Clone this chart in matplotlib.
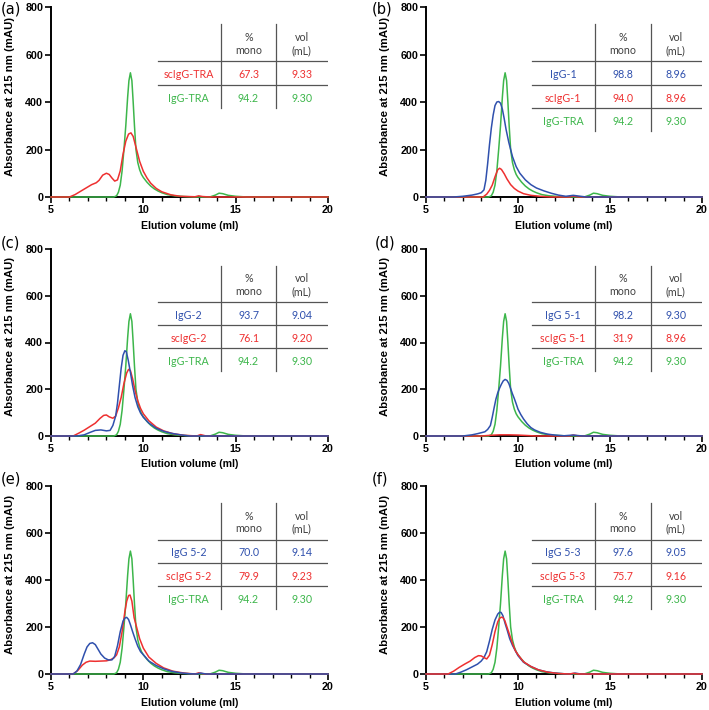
import matplotlib
matplotlib.use("Agg")
import matplotlib.pyplot as plt
from matplotlib.ticker import MultipleLocator

RED = '#EE3030'
GREEN = '#3DB64B'
BLUE = '#2F50AD'

# IgG-TRA reference trace (same in every panel)
vol_tra = [5.0, 8.40, 8.55, 8.65, 8.75, 8.85, 8.95, 9.05, 9.15, 9.22, 9.30, 9.38, 9.45, 9.52,
           9.60, 9.70, 9.80, 9.90, 10.0, 10.2, 10.4, 10.6, 10.8, 11.0, 11.3, 11.7, 12.2, 12.8,
           13.6, 13.9, 14.1, 14.3, 14.6, 15.0, 15.6, 20.0]
abs_tra = [0, 0, 5, 20, 50, 110, 200, 300, 420, 490, 523, 490, 400, 300,
           200, 145, 115, 95, 82, 62, 46, 34, 25, 18, 10, 5, 2, 0,
           0, 8, 16, 14, 7, 3, 0, 0]

# (a) scIgG-TRA
vol_sc_tra = [5.0, 6.0, 6.3, 6.6, 6.9, 7.2, 7.45, 7.6, 7.8, 8.0, 8.15, 8.3, 8.45, 8.6, 8.75, 8.9,
              9.05, 9.2, 9.33, 9.45, 9.6, 9.8, 10.0, 10.2, 10.4, 10.7, 11.0, 11.5, 12.0, 12.8,
              13.0, 13.2, 13.6, 20.0]
abs_sc_tra = [0, 0, 10, 24, 38, 52, 60, 70, 92, 100, 95, 80, 67, 72, 110, 180,
              235, 265, 270, 255, 210, 150, 108, 80, 58, 36, 22, 9, 3, 1,
              5, 2, 0, 0]

# (b) IgG-1 / scIgG-1
vol_igg1 = [5.0, 6.5, 7.0, 7.5, 7.8, 8.0, 8.15, 8.25, 8.35, 8.45, 8.55, 8.65, 8.75, 8.85, 8.95,
            9.05, 9.15, 9.25, 9.35, 9.5, 9.7, 9.9, 10.1, 10.4, 10.7, 11.0, 11.4, 11.8, 12.2,
            12.6, 13.0, 13.3, 13.7, 20.0]
abs_igg1 = [0, 0, 3, 8, 13, 18, 30, 70, 140, 220, 290, 345, 385, 400, 402,
            395, 370, 330, 285, 230, 170, 128, 100, 72, 52, 38, 26, 16, 8,
            3, 7, 4, 0, 0]
vol_sc1 = [5.0, 8.1, 8.3, 8.45, 8.6, 8.75, 8.9, 9.0, 9.1, 9.25, 9.4, 9.6, 9.8, 10.0, 10.3,
           10.7, 11.2, 11.8, 12.8, 13.0, 13.3, 20.0]
abs_sc1 = [0, 0, 12, 28, 50, 85, 115, 121, 116, 98, 76, 52, 36, 25, 14,
           7, 3, 0, 0, 4, 0, 0]

# (c) IgG-2 / scIgG-2
vol_igg2 = [5.0, 6.4, 6.8, 7.1, 7.4, 7.7, 8.0, 8.2, 8.35, 8.5, 8.6, 8.7, 8.8, 8.9, 9.0, 9.08,
            9.18, 9.3, 9.42, 9.55, 9.7, 9.85, 10.0, 10.3, 10.7, 11.1, 11.5, 12.0, 12.5, 20.0]
abs_igg2 = [0, 0, 5, 15, 24, 26, 22, 24, 45, 85, 140, 215, 290, 345, 365, 360,
            325, 272, 215, 165, 125, 98, 80, 55, 33, 20, 12, 5, 0, 0]
vol_sc2 = [5.0, 6.2, 6.5, 6.8, 7.1, 7.4, 7.65, 7.85, 8.0, 8.15, 8.35, 8.5, 8.65, 8.8, 8.95,
           9.1, 9.2, 9.3, 9.42, 9.55, 9.7, 9.85, 10.0, 10.3, 10.7, 11.1, 11.6, 12.2, 12.9,
           13.1, 13.4, 20.0]
abs_sc2 = [0, 0, 12, 25, 40, 55, 75, 88, 90, 82, 76, 85, 120, 165, 225,
           270, 285, 280, 245, 195, 150, 118, 95, 65, 38, 22, 10, 3, 0,
           6, 0, 0]

# (d) IgG 5-1 / scIgG 5-1
vol_igg51 = [5.0, 7.0, 7.5, 7.8, 8.0, 8.2, 8.35, 8.5, 8.6, 8.7, 8.8, 8.9, 9.0, 9.1, 9.2, 9.3,
             9.4, 9.5, 9.6, 9.7, 9.8, 9.9, 10.0, 10.15, 10.3, 10.5, 10.7, 10.9, 11.2, 11.6,
             12.0, 12.5, 13.0, 13.5, 20.0]
abs_igg51 = [0, 0, 5, 10, 14, 18, 28, 45, 80, 120, 158, 185, 205, 222, 236, 242,
             238, 225, 203, 180, 160, 138, 115, 92, 73, 52, 36, 26, 16, 8,
             4, 1, 4, 0, 0]
vol_sc51 = [5.0, 8.0, 8.5, 9.0, 9.5, 10.0, 10.5, 11.0, 12.8, 13.0, 13.3, 20.0]
abs_sc51 = [0, 0, 3, 5, 5, 4, 2, 0, 0, 4, 0, 0]

# (e) IgG 5-2 / scIgG 5-2
vol_igg52 = [5.0, 6.2, 6.4, 6.6, 6.8, 6.95, 7.1, 7.25, 7.4, 7.55, 7.7, 7.9, 8.1, 8.3, 8.45,
             8.6, 8.75, 8.9, 9.0, 9.1, 9.2, 9.3, 9.42, 9.55, 9.7, 9.85, 10.0, 10.3, 10.7,
             11.1, 11.5, 12.0, 12.5, 12.9, 13.1, 13.4, 20.0]
abs_igg52 = [0, 0, 12, 40, 85, 115, 130, 133, 125, 105, 85, 68, 60, 60, 75,
             120, 180, 225, 238, 241, 232, 210, 180, 150, 118, 95, 82, 55, 36,
             22, 12, 5, 1, 0, 4, 0, 0]
vol_sc52 = [5.0, 6.2, 6.45, 6.7, 6.9, 7.1, 7.4, 7.7, 8.0, 8.2, 8.4, 8.55, 8.7, 8.85, 9.0,
            9.1, 9.2, 9.28, 9.38, 9.5, 9.65, 9.8, 10.0, 10.3, 10.7, 11.1, 11.6, 12.2, 12.8,
            13.0, 13.3, 20.0]
abs_sc52 = [0, 0, 15, 38, 50, 55, 54, 55, 56, 60, 68, 81, 115, 180, 265,
            310, 334, 336, 310, 240, 195, 150, 110, 72, 45, 26, 12, 4, 0,
            5, 0, 0]

# (f) IgG 5-3 / scIgG 5-3
vol_igg53 = [5.0, 6.6, 6.9, 7.2, 7.5, 7.8, 8.0, 8.15, 8.3, 8.45, 8.6, 8.75, 8.9, 9.0, 9.08,
             9.18, 9.3, 9.42, 9.55, 9.7, 9.85, 10.0, 10.3, 10.7, 11.1, 11.5, 12.0, 12.5, 12.9,
             13.1, 13.4, 20.0]
abs_igg53 = [0, 0, 8, 18, 30, 42, 55, 70, 95, 140, 190, 230, 255, 263, 262,
             248, 215, 185, 150, 122, 100, 78, 50, 32, 18, 10, 4, 1, 0,
             4, 0, 0]
vol_sc53 = [5.0, 6.2, 6.5, 6.8, 7.1, 7.4, 7.65, 7.85, 8.0, 8.15, 8.3, 8.45, 8.6, 8.75, 8.9,
            9.0, 9.1, 9.18, 9.28, 9.4, 9.55, 9.7, 9.85, 10.0, 10.3, 10.7, 11.1, 11.6, 12.2,
            12.8, 13.0, 13.3, 20.0]
abs_sc53 = [0, 0, 12, 28, 42, 55, 70, 78, 77, 70, 64, 80, 125, 180, 222,
            237, 242, 240, 228, 200, 165, 130, 100, 82, 52, 32, 18, 8, 2,
            0, 3, 0, 0]

# table contents per panel
tab_names = [
    ['scIgG-TRA', 'IgG-TRA'],
    ['IgG-1', 'scIgG-1', 'IgG-TRA'],
    ['IgG-2', 'scIgG-2', 'IgG-TRA'],
    ['IgG 5-1', 'scIgG 5-1', 'IgG-TRA'],
    ['IgG 5-2', 'scIgG 5-2', 'IgG-TRA'],
    ['IgG 5-3', 'scIgG 5-3', 'IgG-TRA'],
]
tab_mono = [
    ['67.3', '94.2'],
    ['98.8', '94.0', '94.2'],
    ['93.7', '76.1', '94.2'],
    ['98.2', '31.9', '94.2'],
    ['70.0', '79.9', '94.2'],
    ['97.6', '75.7', '94.2'],
]
tab_vol = [
    ['9.33', '9.30'],
    ['8.96', '8.96', '9.30'],
    ['9.04', '9.20', '9.30'],
    ['9.30', '8.96', '9.30'],
    ['9.14', '9.23', '9.30'],
    ['9.05', '9.16', '9.30'],
]
tab_colors = [
    [RED, GREEN],
    [BLUE, RED, GREEN],
    [BLUE, RED, GREEN],
    [BLUE, RED, GREEN],
    [BLUE, RED, GREEN],
    [BLUE, RED, GREEN],
]

# traces per panel: (x, y, colour), drawn in this order
traces = [
    [(vol_tra, abs_tra, GREEN), (vol_sc_tra, abs_sc_tra, RED)],
    [(vol_tra, abs_tra, GREEN), (vol_sc1, abs_sc1, RED), (vol_igg1, abs_igg1, BLUE)],
    [(vol_tra, abs_tra, GREEN), (vol_sc2, abs_sc2, RED), (vol_igg2, abs_igg2, BLUE)],
    [(vol_tra, abs_tra, GREEN), (vol_sc51, abs_sc51, RED), (vol_igg51, abs_igg51, BLUE)],
    [(vol_tra, abs_tra, GREEN), (vol_sc52, abs_sc52, RED), (vol_igg52, abs_igg52, BLUE)],
    [(vol_tra, abs_tra, GREEN), (vol_igg53, abs_igg53, BLUE), (vol_sc53, abs_sc53, RED)],
]
panel_tags = ['(a)', '(b)', '(c)', '(d)', '(e)', '(f)']

W, H = 709, 710
fig = plt.figure(figsize=(W / 100, H / 100), dpi=100)
fig.patch.set_facecolor('white')

# axes boxes in pixels: left, top, right, bottom
col_x = [(51, 328), (426, 702)]
row_y = [(7, 197), (249, 436), (486, 674)]
tag_pos = [(1, 1), (372, 1), (1, 236), (375, 236), (1, 472), (372, 472)]

axis_font = 'Liberation Sans'
table_font = 'Lato'

for i in range(6):
    r, c = divmod(i, 2)
    x0, x1 = col_x[c]
    y0, y1 = row_y[r]
    ax = fig.add_axes([x0 / W, 1 - y1 / H, (x1 - x0) / W, (y1 - y0) / H])

    for xs, ys, col in traces[i]:
        ax.plot(xs, ys, color=col, lw=1.1, zorder=3, clip_on=False)

    ax.set_xlim(5, 20)
    ax.set_ylim(0, 800)
    ax.xaxis.set_major_locator(MultipleLocator(5))
    ax.xaxis.set_minor_locator(MultipleLocator(1))
    ax.yaxis.set_major_locator(MultipleLocator(200))
    for s in ['top', 'right']:
        ax.spines[s].set_visible(False)
    for s in ['left', 'bottom']:
        ax.spines[s].set_linewidth(1.4)
        ax.spines[s].set_zorder(2)
    ax.tick_params(which='major', direction='out', length=4, width=1.2, pad=1.5)
    ax.tick_params(which='minor', direction='out', length=3, width=1.0)
    for lab in ax.get_xticklabels() + ax.get_yticklabels():
        lab.set_fontfamily(axis_font)
        lab.set_fontweight('bold')
        lab.set_fontsize(7.7)

    ax.set_xlabel('Elution volume (ml)', fontfamily=axis_font, fontweight='bold', fontsize=7.6)
    ax.set_ylabel('Absorbance at 215 nm (mAU)', fontfamily=axis_font, fontweight='bold', fontsize=8.2)
    ax.xaxis.set_label_coords(0.5, -0.125)
    ax.yaxis.set_label_coords(-0.13, 0.53)

    # little summary table in the upper right
    n = len(tab_names[i])
    tr = ax.transAxes
    top, step = 0.91, 0.123
    h1 = 0.714
    bottom = h1 - step * n
    line_kw = dict(color='#555555', lw=0.9, transform=tr, zorder=1)
    ax.plot([0.612, 0.612], [top, bottom], **line_kw)
    ax.plot([0.814, 0.814], [top, bottom], **line_kw)
    for k in range(n):
        yy = h1 - step * k
        ax.plot([0.385, 1.0], [yy, yy], **line_kw)
    txt_kw = dict(transform=tr, ha='center', va='center', fontfamily=table_font, fontsize=7.7)
    ax.text(0.713, 0.84, '%', color='#404040', **txt_kw)
    ax.text(0.713, 0.772, 'mono', color='#404040', **txt_kw)
    ax.text(0.905, 0.84, 'vol', color='#404040', **txt_kw)
    ax.text(0.905, 0.772, '(mL)', color='#404040', **txt_kw)
    for k in range(n):
        yy = h1 - step * k - 0.07
        col = tab_colors[i][k]
        ax.text(0.497, yy, tab_names[i][k], color=col, **txt_kw)
        ax.text(0.713, yy, tab_mono[i][k], color=col, **txt_kw)
        ax.text(0.905, yy, tab_vol[i][k], color=col, **txt_kw)

    tx, ty = tag_pos[i]
    fig.text(tx / W, 1 - ty / H, panel_tags[i], ha='left', va='top',
             fontfamily='DejaVu Sans', fontsize=10.5)

fig.savefig('out.png', dpi=100, facecolor='white')
